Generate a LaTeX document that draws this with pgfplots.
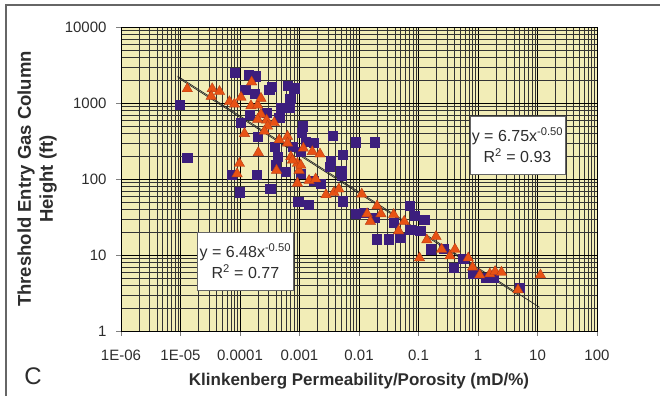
\documentclass[border=0pt]{standalone}
\usepackage{fontspec}
\setmainfont{Liberation Sans}
\usepackage{pgfplots}
\pgfplotsset{compat=1.18}
\definecolor{bgy}{RGB}{242,237,183}
\definecolor{sq}{RGB}{60,30,125}
\definecolor{tri}{RGB}{232,82,20}
\definecolor{trid}{RGB}{185,60,20}
\definecolor{txt}{RGB}{45,45,45}
\begin{document}
\begin{tikzpicture}[x=1pt,y=1pt]
\useasboundingbox (0,0) rectangle (660,396);
\fill[white] (0,0) rectangle (660,396);
\draw[black!60, line width=1.2pt] (6,0) -- (6,391) -- (660,391);
\begin{axis}[
  at={(121pt,65pt)}, anchor=south west,
  scale only axis, width=476pt, height=304pt,
  xmode=log, ymode=log,
  xmin=1e-6, xmax=100, ymin=1, ymax=10000,
  axis background/.style={fill=bgy},
  grid=both,
  major grid style={black, line width=0.6pt},
  minor grid style={black!80, line width=0.45pt},
  axis line style={black, line width=0.8pt},
  tick pos=left, tick align=outside,
  major tick length=5pt, minor tick length=0pt,
  xtick={1e-6,1e-5,1e-4,1e-3,1e-2,1e-1,1,10,100},
  xticklabels={1E-06,1E-05,0.0001,0.001,0.01,0.1,1,10,100},
  ytick={1,10,100,1000,10000},
  yticklabels={1,10,100,1000,10000},
  ticklabel style={font=\fontsize{15}{18}\selectfont, text=txt},
  xticklabel style={yshift=-11pt},
  yticklabel style={xshift=-6pt},
  xlabel={Klinkenberg Permeability/Porosity (mD/\%)},
  xlabel style={font=\bfseries\fontsize{17}{20}\selectfont, text=txt, at={(axis description cs:0.5,0)}, anchor=center, yshift=-50pt},
  ylabel={Threshold Entry Gas Column\\Height (ft)},
  ylabel style={font=\bfseries\fontsize{18.5}{22}\selectfont, text=txt, align=center, at={(axis description cs:-0.176,0.5)}, anchor=center},
  clip=false,
]
\addplot[only marks, mark=square*, mark size=4.6pt, mark options={fill=sq, draw=sq}] coordinates {
(9.7e-6,957) (1.30e-5,190) (8.05e-5,2518) (1.40e-4,2366) (1.86e-4,2249)
(1.22e-4,1507) (1.74e-4,1318) (3.10e-4,1507) (3.40e-4,1619) (6.28e-4,1702)
(8.13e-4,1570) (6.97e-4,1130) (4.86e-4,873) (6.79e-4,873) (2.80e-4,748)
(4.56e-4,641) (1.04e-4,550) (1.44e-4,710) (1.12e-3,495) (1.08e-3,404)
(3.65e-3,371) (1.75e-3,297) (5.28e-3,211) (8.83e-3,305) (0.01815,305)
(7.28e-5,115) (1.00e-4,67) (1.93e-4,115) (3.22e-4,73.8) (9.48e-4,50.5)
(1.43e-3,46.0) (5.36e-3,51.0) (3.34e-3,173) (3.17e-3,144) (5.02e-3,127)
(5.15e-3,111) (4.28e-4,196) (4.01e-4,152) (5.89e-4,124) (1.05e-3,117)
(1.75e-3,95.5) (2.27e-3,86) (3.8e-4,267) (1.05e-3,229) (1.27e-3,312)
(7.62e-4,267) (2.0e-4,363) (8.73e-3,35.2) (0.0120,35.9) (0.01815,30.8)
(0.0196,16.1) (0.0319,16.1) (0.0493,16.9) (0.0706,44.2) (0.0868,32.5)
(0.1245,29.2) (0.0382,26.4) (0.0726,21.5) (0.1067,20.8) (0.1607,11.9)
(0.3846,6.78) (0.831,5.64) (1.355,4.99) (1.796,5.09) (0.566,8.96)
(5.01,3.73) (0.262,12.2)
};
\addplot[only marks, mark=triangle*, mark size=6pt, mark options={fill=tri, draw=trid, line width=0.4pt}] coordinates {
(1.30e-5,1538) (3.41e-5,1538) (4.53e-5,1416) (3.28e-5,1225) (6.65e-5,1040)
(8.05e-5,967) (1.04e-4,1189) (1.57e-4,1888) (1.53e-4,918) (1.98e-4,937)
(2.25e-4,1151) (2.25e-4,710) (2.80e-4,596) (3.76e-4,550) (1.19e-4,396)
(2.03e-4,222) (9.77e-5,160) (8.93e-5,117) (4.11e-4,130) (6.28e-4,364)
(4.56e-4,328) (7.15e-4,196) (9.23e-4,160) (9.84e-4,130) (1.16e-3,254)
(1.64e-3,229) (2.21e-3,213) (1.45e-3,95.5) (1.87e-3,100) (9.23e-4,87.9)
(2.79e-3,62.0) (3.79e-3,66.6) (4.59e-3,73.8) (0.01114,63.2) (0.0201,44.2)
(0.0234,34.8) (0.01368,34.8) (0.01556,27.7) (0.0382,34.1) (0.0575,27.7)
(0.0463,20.8) (0.104,9.14) (0.138,15.8) (0.197,17.5) (0.245,11.9)
(0.338,9.73) (0.410,11.9) (0.685,9.14) (0.811,6.92) (1.07,5.46)
(1.58,5.64) (1.94,6.06) (2.48,5.93) (4.70,3.47) (11.2,5.46)
(2.91e-4,495) (2.56e-4,425) (6.28e-4,297) (7.62e-4,177) (1.05e-3,152)
(1.98e-4,608)
};
\addplot[black!85, line width=0.7pt] coordinates {(8.9e-6,2262.6) (10.8,2.054)};
\addplot[black!85, line width=0.7pt] coordinates {(9.0e-6,2160) (5.0,2.898)};
\node[draw=black!60, fill=white, align=center, text=txt, font=\fontsize{16}{21}\selectfont, minimum width=90pt, minimum height=58pt, inner sep=2pt] at (axis cs:4.61,278) {y = 6.75x\textsuperscript{-0.50}\\R\textsuperscript{2} = 0.93};
\node[draw=black!60, fill=white, align=center, text=txt, font=\fontsize{16}{21}\selectfont, minimum width=90pt, minimum height=58pt, inner sep=2pt] at (axis cs:1.23e-4,8.33) {y = 6.48x\textsuperscript{-0.50}\\R\textsuperscript{2} = 0.77};
\end{axis}
\node[font=\fontsize{24}{28}\selectfont, text=txt] at (33,20) {C};
\end{tikzpicture}
\end{document}
